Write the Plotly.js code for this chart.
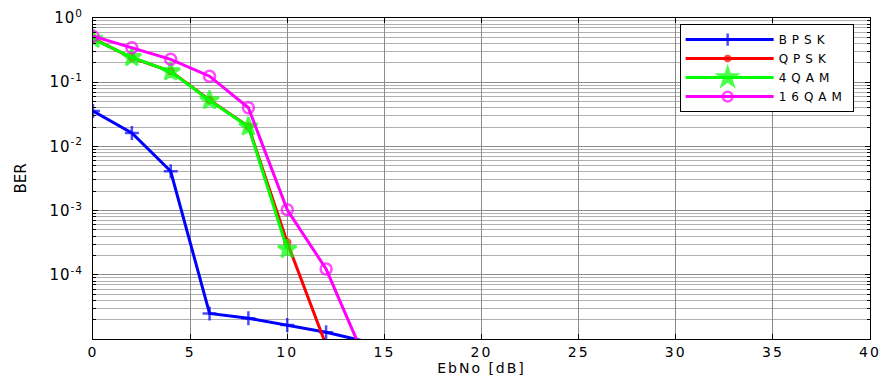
<!DOCTYPE html>
<html><head><meta charset="utf-8">
<script src="https://cdn.plot.ly/plotly-3.0.1.min.js"></script>
<style>
html,body{margin:0;padding:0;background:#fff;}
#chart{width:883px;height:376px;}
.xtick text, .g-xtitle text { letter-spacing: 2px; }
.ytick text { letter-spacing: 1px; }
.legendtext { letter-spacing: 5px; }
#chart .legend .legendpoints path { transform: translate(47px, 0px); }
</style>
</head><body><div id="chart"></div>
<script>
const ebno = [0, 2, 4, 6, 8, 10, 12, 14];
const berBPSK = [0.0356, 0.0162, 0.0041, 2.5e-5, 2.1e-5, 1.65e-5, 1.27e-5, 9.2e-6];
const berQPSK = [0.48, 0.24, 0.148, 0.053, 0.0205, 3.2e-4, 8e-6];
const ber4QAM = [0.47, 0.244, 0.146, 0.052, 0.0203, 2.5e-4];
const ber16QAM = [0.52, 0.345, 0.227, 0.124, 0.040, 1.03e-3, 1.23e-4, 4.9e-6];
const yTickVals = [1e-5, 1e-4, 1e-3, 1e-2, 1e-1, 1];
const yTickText = ['', '10<sup>-4</sup>', '10<sup>-3</sup>', '10<sup>-2</sup>', '10<sup>-1</sup>', '10<sup>0</sup>'];
const xTickVals = [0, 5, 10, 15, 20, 25, 30, 35, 40];
const yMin = 1e-5;

const traces = [
  {name:'BPSK', y: berBPSK, color:'#0000ff', symbol:'cross-thin-open', size:10},
  {name:'QPSK', y: berQPSK, color:'#ff0000', symbol:'circle', size:6},
  {name:'4QAM', y: ber4QAM, color:'#00ff00', symbol:'star', size:14},
  {name:'16QAM', y: ber16QAM, color:'#ff00ff', symbol:'circle-open', size:11}
].map(t => ({
  type:'scatter', mode:'lines+markers', name:t.name,
  x: ebno.slice(0, t.y.length), y: t.y,
  line:{color:t.color, width:3},
  marker:{symbol:t.symbol, size:t.y.map(v => v >= yMin ? t.size : 0), color:t.color,
          line:{color:t.color, width:2.5}}
}));

const fam = 'DejaVu Sans, Liberation Sans, Arial, sans-serif';
const layout = {
  width:883, height:376,
  margin:{l:93, r:13, t:18, b:37},
  paper_bgcolor:'#fff', plot_bgcolor:'#fff',
  font:{family:fam, size:13, color:'#000'},
  showlegend:true,
  legend:{x:0.755, xanchor:'left', y:0.981, yanchor:'top', bgcolor:'#fff',
          bordercolor:'#000', borderwidth:1, font:{family:fam, size:12, color:'#000'},
          tracegroupgap:0, itemwidth:88},
  xaxis:{range:[0,40], tickvals:xTickVals, ticks:'inside', ticklen:5, tickcolor:'#000',
         showline:true, linecolor:'#000', linewidth:1, mirror:'ticks',
         showgrid:true, gridcolor:'#8c8c8c', gridwidth:1, zeroline:false,
         tickfont:{family:fam, size:14, color:'#000'},
         title:{text:'EbNo [dB]', font:{family:fam, size:14, color:'#000'}, standoff:3}},
  yaxis:{type:'log', range:[-5,0], tickvals:yTickVals, ticktext:yTickText,
         ticks:'inside', ticklen:5, tickcolor:'#000', ticklabelstandoff:6,
         showline:true, linecolor:'#000', linewidth:1, mirror:'ticks',
         showgrid:true, gridcolor:'#8c8c8c', gridwidth:1, zeroline:false,
         minor:{dtick:'D1', ticks:'inside', ticklen:3, tickcolor:'#000', showgrid:true, gridcolor:'#b0b0b0', gridwidth:1},
         tickfont:{family:fam, size:15, color:'#000'},
         title:{text:'BER', font:{family:fam, size:15, color:'#000'}, standoff:19}}
};
Plotly.newPlot('chart', traces, layout, {displayModeBar:false, staticPlot:true});
</script></body></html>
